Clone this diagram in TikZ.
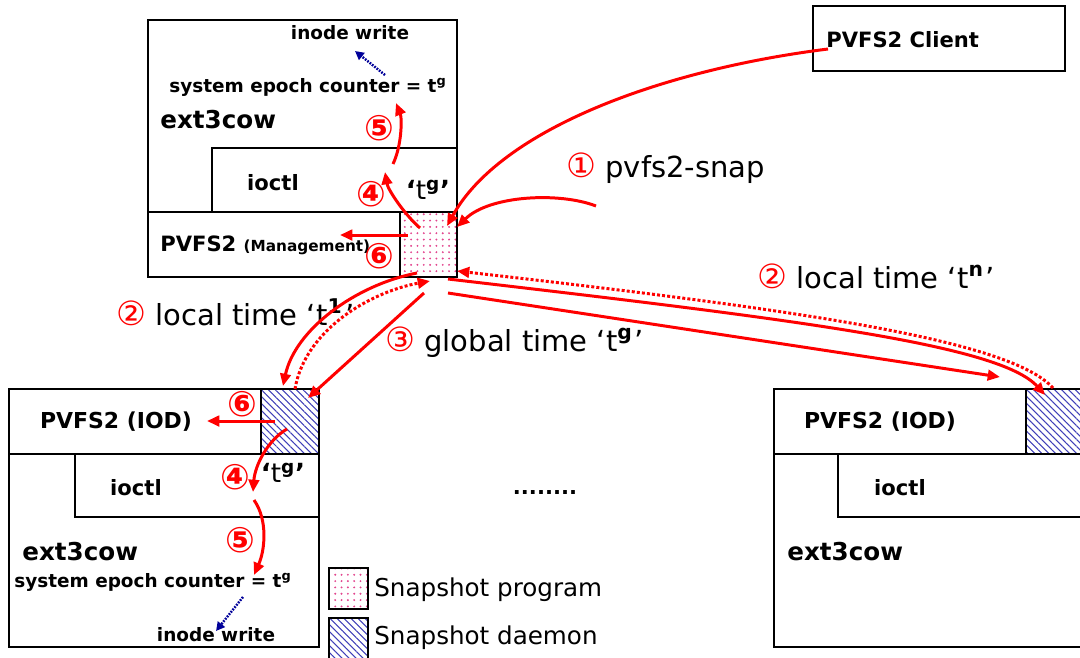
\documentclass[tikz,border=0pt]{standalone}
\usepackage{fontspec}
\setmainfont{DejaVu Sans}
\usepackage{xcolor}
\definecolor{flowred}{HTML}{FF0000}
\definecolor{inodeblue}{HTML}{000099}
\definecolor{dotpink}{HTML}{E2458E}
\definecolor{hatchblue}{HTML}{4040B8}
\usetikzlibrary{arrows.meta, fit, patterns.meta}

\newcommand{\cnum}[1]{\textcolor{flowred}{\fontsize{19}{19}\selectfont #1}}

\begin{document}
\begin{tikzpicture}[
  x=0.02cm, y=-0.02cm,
  box/.style={draw, line width=1.1pt, inner sep=0pt},
  prog/.style={box, pattern={Dots[distance=3.6pt, radius=0.6pt]}, pattern color=dotpink},
  daemon/.style={box, pattern={Lines[angle=-45, distance=2.8pt, line width=0.6pt]}, pattern color=hatchblue},
  tag/.style={font=\bfseries\fontsize{12}{14}\selectfont, inner sep=0pt},
  bigtag/.style={font=\bfseries\fontsize{14}{16}\selectfont, inner sep=0pt},
  small/.style={font=\bfseries\fontsize{10.5}{12}\selectfont, inner sep=0pt},
  say/.style={font=\fontsize{16.5}{18}\selectfont, inner sep=0pt, anchor=base west},
  step num/.style={font=\bfseries\fontsize{20}{20}\selectfont, text=flowred, inner sep=0pt},
  quote/.style={font=\fontsize{15}{16}\selectfont, inner sep=0pt},
  flow/.style={flowred, line width=1.7pt, -{Triangle[length=7pt, width=6pt]}},
  reply/.style={flow, dash pattern=on 1.7pt off 1.2pt},
  inode/.style={inodeblue, line width=1.4pt, dash pattern=on 1pt off 0.7pt,
    -{Triangle[length=5pt, width=5pt]}}
]
  \useasboundingbox (0,0) rectangle (1080,657);

  % management node
  \node[box, fit={(148,20) (457,277)}] (mgr) {};
  \node[box, fit={(212,148) (457,212)}] (mgrioctl) {};
  \node[box, fit={(148,212) (400,277)}] (mgrpvfs) {};
  \node[prog, fit={(400,212) (457,277)}] (snapprog) {};
  \node[small] (mgrwrite) at (350,33) {inode write};
  \node[small] (mgrepoch) at (308,87) {system epoch counter = t\textsuperscript{g}};
  \node[bigtag, anchor=west] (mgrext) at (160,120) {ext3cow};
  \node[tag] (mgrioctltxt) at (273,183) {ioctl};
  \node[tag, anchor=west] (mgrpvfstxt) at (160,245)
    {PVFS2 {\fontsize{8.7}{10}\selectfont (Management)}};
  \node[quote] (mgrtg) at (428,190) {\textbf{‘}t\textsuperscript{\textbf{g}}\textbf{’}};
  \node[step num] (mgrfour) at (371,194) {④};
  \node[step num] (mgrfive) at (379,128) {⑤};
  \node[step num] (mgrsix) at (379,256) {⑥};

  % client
  \node[box, fit={(813,6) (1065,71)}] (client) {};
  \node[tag, anchor=west] (clienttxt) at (826,40) {PVFS2 Client};

  % IOD nodes
  \node[box, fit={(9,389) (319,647)}] (iodl) {};
  \node[box, fit={(9,389) (261,454)}] (iodlpvfs) {};
  \node[daemon, fit={(261,389) (319,454)}] (iodldmn) {};
  \node[box, fit={(75,454) (319,517)}] (iodlioctl) {};
  \node[tag, font=\bfseries\fontsize{12.5}{14}\selectfont] (iodlpvfstxt) at (116,422) {PVFS2 (IOD)};
  \node[tag] (iodlioctltxt) at (136,488) {ioctl};
  \node[bigtag, anchor=west] (iodlext) at (22,552) {ext3cow};
  \node[small] (iodlepoch) at (153,582) {system epoch counter = t\textsuperscript{g}};
  \node[small] (iodlwrite) at (216,635) {inode write};
  \node[quote] (iodltg) at (283,473) {\textbf{‘}t\textsuperscript{\textbf{g}}\textbf{’}};
  \node[step num] (iodlfour) at (235,477) {④};
  \node[step num] (iodlfive) at (240,540) {⑤};
  \node[step num] (iodlsix) at (242,404) {⑥};

  \node[box, fit={(774,389) (1095,647)}] (iodr) {};
  \node[box, fit={(774,389) (1026,454)}] (iodrpvfs) {};
  \node[daemon, fit={(1026,389) (1095,454)}] (iodrdmn) {};
  \node[box, fit={(838,454) (1095,517)}] (iodrioctl) {};
  \node[tag, font=\bfseries\fontsize{12.5}{14}\selectfont] (iodrpvfstxt) at (880,422) {PVFS2 (IOD)};
  \node[tag] (iodrioctltxt) at (900,488) {ioctl};
  \node[bigtag, anchor=west] (iodrext) at (787,552) {ext3cow};

  \node[tag] (more) at (545,492) {........};

  % legend
  \node[prog, fit={(329,568) (368,609)}] (keyprog) {};
  \node[daemon, fit={(329,618) (368,662)}] (keydmn) {};
  \node[say, font=\fontsize{14}{16}\selectfont, anchor=west] (keyprogtxt) at (374,590) {Snapshot program};
  \node[say, font=\fontsize{14}{16}\selectfont, anchor=west] (keydmntxt) at (374,638) {Snapshot daemon};

  % message labels
  \node[say] (snaptxt) at (566,177) {\cnum{①} pvfs2-snap};
  \node[say] (localn) at (757,288) {\cnum{②} local time ‘t\textsuperscript{\textbf{n}}\kern1pt’};
  \node[say] (localone) at (116,325) {\cnum{②} local time ‘t\textsuperscript{\textbf{1}}\kern1.5pt’};
  \node[say] (globaltxt) at (385,351) {\cnum{③} global time ‘t\textsuperscript{\textbf{g}}\kern1pt’};

  % connector ends
  \coordinate (clientout) at (828,49);
  \coordinate (progin) at (447,226);
  \coordinate (snapout) at (596,206);
  \coordinate (progright) at (457,227);
  \coordinate (mgrup) at (420,228);
  \coordinate (mgrmid) at (385,172);
  \coordinate (mgrlow) at (393,164);
  \coordinate (mgrtop) at (396,103);
  \coordinate (mgrsixs) at (408,235);
  \coordinate (mgrsixe) at (340,235);
  \coordinate (mgrblues) at (385,75);
  \coordinate (mgrbluee) at (355,51);
  \coordinate (iodlsixs) at (275,421);
  \coordinate (iodlsixe) at (207,421);
  \coordinate (iodlds) at (287,429);
  \coordinate (iodldm) at (253,492);
  \coordinate (iodlms) at (254,500);
  \coordinate (iodlme) at (254,575);
  \coordinate (iodlblues) at (243,597);
  \coordinate (iodlbluee) at (216,631);
  \coordinate (progbl) at (417,273);
  \coordinate (dmnlin) at (283,386);
  \coordinate (dmnlout) at (295,389);
  \coordinate (progbot) at (430,281);
  \coordinate (progglob) at (424,293);
  \coordinate (dmnlglob) at (308,398);
  \coordinate (progbr) at (448,279);
  \coordinate (dmnrin) at (1045,395);
  \coordinate (dmnrout) at (1053,388);
  \coordinate (progre) at (457,271);
  \coordinate (progglobr) at (448,293);
  \coordinate (iodrglob) at (1000,377);

  % step 1
  \draw[flow] (clientout) .. controls (660,70) and (500,130) .. (progin);
  \draw[flow] (snapout) .. controls (560,192) and (490,195) .. (progright);
  % step 2
  \draw[flow] (progbl) .. controls (355,285) and (295,330) .. (dmnlin);
  \draw[reply] (dmnlout) .. controls (305,330) and (370,292) .. (progbot);
  \draw[flow] (progbr) .. controls (800,320) and (1000,345) .. (dmnrin);
  \draw[reply] (dmnrout) .. controls (1010,340) and (800,310) .. (progre);
  % step 3
  \draw[flow] (progglob) -- (dmnlglob);
  \draw[flow] (progglobr) -- (iodrglob);
  % steps 4 to 6
  \draw[flow] (mgrup) .. controls (405,215) and (388,190) .. (mgrmid);
  \draw[flow] (mgrlow) .. controls (402,145) and (402,118) .. (mgrtop);
  \draw[flow] (mgrsixs) -- (mgrsixe);
  \draw[inode] (mgrblues) -- (mgrbluee);
  \draw[flow] (iodlsixs) -- (iodlsixe);
  \draw[flow] (iodlds) .. controls (268,440) and (255,465) .. (iodldm);
  \draw[flow] (iodlms) .. controls (268,520) and (265,550) .. (iodlme);
  \draw[inode] (iodlblues) -- (iodlbluee);
\end{tikzpicture}
\end{document}
